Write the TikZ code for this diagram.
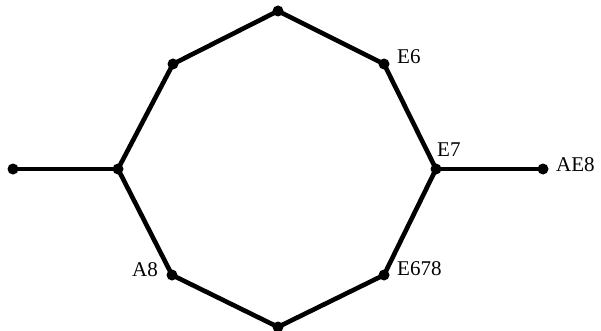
\documentclass[tikz,border=0pt]{standalone}
\usepackage{fontspec}
\setmainfont{Liberation Serif}
\begin{document}
\begin{tikzpicture}[x=1pt,y=-1pt,
  edge/.style={line width=4.6pt,line join=round},
  lbl/.style={inner sep=0pt,anchor=west,font=\fontsize{21}{25}\selectfont}]
\useasboundingbox (0,0) rectangle (601,331);
\coordinate (t) at (278,11);
\coordinate (ul) at (173,64);
\coordinate (ur) at (384,64);
\coordinate (l) at (118,169);
\coordinate (r) at (436,169);
\coordinate (ll) at (172,275);
\coordinate (lr) at (384,275);
\coordinate (b) at (278,327);
\coordinate (fl) at (13,169);
\coordinate (fr) at (543,169);
\draw[edge] (t) -- (ur) -- (r) -- (lr) -- (b) -- (ll) -- (l) -- (ul) -- cycle;
\draw[edge] (fl) -- (l);
\draw[edge] (r) -- (fr);
\foreach \p in {t,ul,ur,l,r,ll,lr,b,fl,fr} \fill (\p) circle (5.5);
\node[lbl] (e6) at (397,57) {E6};
\node[lbl] (e7) at (437,150) {E7};
\node[lbl] (ae8) at (556,165) {AE8};
\node[lbl] (a8) at (132,270) {A8};
\node[lbl] (e678) at (397,269) {E678};
\end{tikzpicture}
\end{document}
